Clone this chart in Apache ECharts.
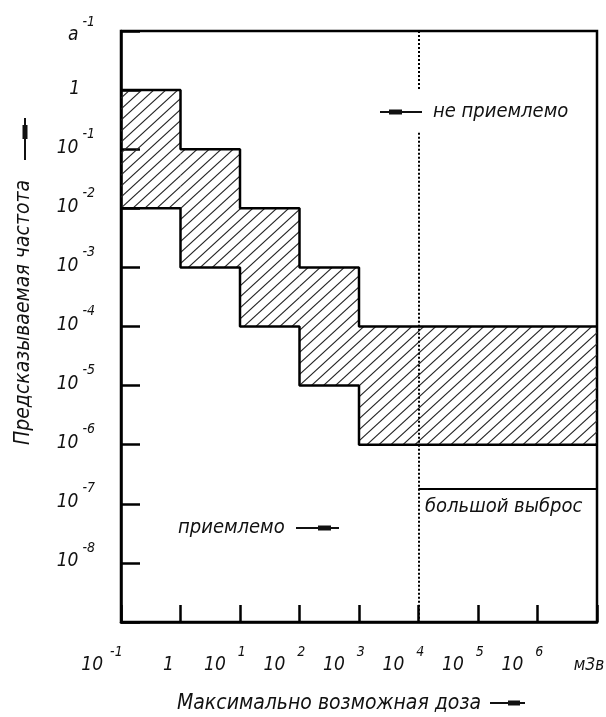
<!DOCTYPE html>
<html><head><meta charset="utf-8">
<script src="https://cdn.jsdelivr.net/npm/echarts@6/dist/echarts.min.js"></script>
<style>html,body{margin:0;padding:0;background:#fff;}#c{width:606px;height:717px;}</style>
</head><body><div id="c"></div>
<script>
// ---- data ----
const stepEdges = [0.1, 1, 10, 100, 1000, 1e7];
const upperBound = [1, 0.1, 0.01, 0.001, 1e-4];
const lowerBound = [0.01, 0.001, 1e-4, 1e-5, 1e-6];
const xTickLabels = [['10','-1'],['1',''],['10','1'],['10','2'],['10','3'],['10','4'],['10','5'],['10','6'],['мЗв','']];
const yTickLabels = [['а','-1'],['1',''],['10','-1'],['10','-2'],['10','-3'],['10','-4'],['10','-5'],['10','-6'],['10','-7'],['10','-8'],['','']];
const boundaryX = 1e4;
const dottedSegments = [[10, 1], [0.19, 1e-9]];
const largeReleaseY = 1.8e-7;
const xName = 'Максимально возможная доза';
const yName = 'Предсказываемая частота';
const txtNotAcceptable = 'не приемлемо';
const txtAcceptable = 'приемлемо';
const txtLargeRelease = 'большой выброс';

const FF = "'DejaVu Sans Condensed', 'Liberation Sans Narrow', sans-serif";

function makeHatch(){
  const W = 12, H = 11;
  const c = document.createElement('canvas');
  c.width = W; c.height = H;
  const g = c.getContext('2d');
  g.strokeStyle = '#222'; g.lineWidth = 1.1;
  for (const k of [-1, 0, 1]) {
    g.beginPath();
    g.moveTo(-1, H + H / W + k * H);
    g.lineTo(W + 1, -H / W + k * H);
    g.stroke();
  }
  return { image: c, repeat: 'repeat' };
}
const hatch = makeHatch();

const bandData = stepEdges.slice(0, -1).map((x0, i) => [x0, stepEdges[i + 1], lowerBound[i], upperBound[i]]);
const upperLine = stepEdges.map((x, i) => [x, upperBound[Math.min(i, upperBound.length - 1)]]);
const lowerLine = stepEdges.map((x, i) => [x, lowerBound[Math.min(i, lowerBound.length - 1)]]);

const base = { fontFamily: FF, fontStyle: 'italic', color: '#111' };
const BF = 19, SF = 14, LH = 41;

function arrow(x1, y1, x2, y2, t1, t2) {
  const horiz = y1 === y2;
  const els = [{
    type: 'line', shape: { x1, y1, x2, y2 }, style: { stroke: '#111', lineWidth: 2 }
  }];
  if (horiz) {
    els.push({ type: 'rect', shape: { x: t1, y: y1 - 2.5, width: t2 - t1, height: 5 }, style: { fill: '#111' } });
  } else {
    els.push({ type: 'rect', shape: { x: x1 - 2.5, y: t1, width: 5, height: t2 - t1 }, style: { fill: '#111' } });
  }
  return els;
}
function txt(text, x, y) {
  return { type: 'text', x, y, style: { text, fontSize: 20, fontFamily: FF, fontStyle: 'italic', fill: '#111', verticalAlign: 'middle', align: 'left' } };
}

const chart = echarts.init(document.getElementById('c'), null, { renderer: 'canvas' });
chart.setOption({
  animation: false,
  backgroundColor: '#fff',
  grid: { left: 121, right: 9, top: 31, bottom: 95, show: true, borderColor: '#000', borderWidth: 2.5, backgroundColor: 'transparent', containLabel: false, outerBoundsMode: 'none' },
  xAxis: {
    type: 'log', logBase: 10, min: 0.1, max: 1e7, interval: 1, splitNumber: 8,
    axisLine: { lineStyle: { color: '#000', width: 2.5 } },
    axisTick: { inside: true, length: 17, lineStyle: { color: '#000', width: 2.5 } },
    splitLine: { show: false }, minorTick: { show: false },
    axisLabel: {
      showMinLabel: true, showMaxLabel: true, hideOverlap: false, margin: 23, align: 'center', verticalAlign: 'top',
      formatter: v => {
        const e = Math.round(Math.log10(v));
        const t = xTickLabels[e + 1];
        if (!t) return '';
        if (t[1] && t[1][0] === '-') return `{xbn|${t[0]}}{xsn|${t[1]}}`;
        if (t[1]) return `{xb|${t[0]}}{xs|${t[1]}}`;
        if (t[0] === '1') return `{xo1|${t[0]}}`;
        return `{xo2|${t[0]}}`;
      },
      rich: {
        xb: Object.assign({}, base, { fontSize: BF, lineHeight: LH, padding: [0, 12, 0, 0] }),
        xs: Object.assign({}, base, { fontSize: SF, lineHeight: 15, padding: [0, 30, 0, 0], verticalAlign: 'top' }),
        xbn: Object.assign({}, base, { fontSize: BF, lineHeight: LH, padding: [0, 7, 0, 0] }),
        xsn: Object.assign({}, base, { fontSize: SF, lineHeight: 15, padding: [0, 38, 0, 0], verticalAlign: 'top' }),
        xo1: Object.assign({}, base, { fontSize: BF, lineHeight: LH, padding: [0, 24, 0, 0] }),
        xo2: Object.assign({}, base, { fontSize: 17, lineHeight: LH, padding: [0, 16, 0, 0] })
      }
    },
    name: xName, nameLocation: 'middle', nameGap: 71,
    nameTextStyle: Object.assign({}, base, { fontSize: 21, padding: [0, 60, 0, 0] })
  },
  yAxis: {
    type: 'log', logBase: 10, min: 1e-9, max: 10, interval: 1, splitNumber: 10,
    axisLine: { lineStyle: { color: '#000', width: 2.5 } },
    axisTick: { inside: true, length: 19, lineStyle: { color: '#000', width: 2.5 } },
    splitLine: { show: false }, minorTick: { show: false },
    axisLabel: {
      showMinLabel: true, showMaxLabel: true, hideOverlap: false, margin: 26, align: 'right', verticalAlign: 'middle',
      padding: [0, 0, 3, 0],
      formatter: v => {
        const e = Math.round(Math.log10(v));
        const t = yTickLabels[1 - e];
        if (!t || !t[0]) return '';
        if (t[1] && t[0] !== '10') return `{ya|${t[0]}}{yas|${t[1]}}`;
        if (t[1]) return `{yb|${t[0]}}{ys|${t[1]}}`;
        return `{yo|${t[0]}}`;
      },
      rich: {
        yb: Object.assign({}, base, { fontSize: BF, lineHeight: LH, padding: [0, 4, 0, 0] }),
        ys: Object.assign({}, base, { fontSize: SF, lineHeight: 15, verticalAlign: 'top' }),
        ya: Object.assign({}, base, { fontSize: BF, lineHeight: LH, padding: [12, 4, 0, 0] }),
        yas: Object.assign({}, base, { fontSize: SF, lineHeight: 15, padding: [6, 0, 0, 0], verticalAlign: 'top' }),
        yo: Object.assign({}, base, { fontSize: BF, lineHeight: LH, padding: [0, 15, 0, 0] })
      }
    },
    name: yName, nameLocation: 'middle', nameGap: 87, nameRotate: 90,
    nameTextStyle: Object.assign({}, base, { fontSize: 21, padding: [0, 0, 0, 28] })
  },
  series: [
    {
      type: 'custom', z: 1, silent: true, data: bandData,
      encode: { x: [0, 1], y: [2, 3] },
      renderItem: (params, api) => {
        const p0 = api.coord([api.value(0), api.value(3)]);
        const p1 = api.coord([api.value(1), api.value(2)]);
        return { type: 'rect', shape: { x: p0[0], y: p0[1], width: p1[0] - p0[0], height: p1[1] - p0[1] }, style: { fill: hatch } };
      }
    },
    {
      type: 'line', step: 'end', data: upperLine, symbol: 'none', z: 3, silent: true,
      lineStyle: { color: '#000', width: 2.5 },
      markLine: {
        silent: true, symbol: ['none', 'none'], label: { show: false },
        data: [
          ...dottedSegments.map(s => [
            { coord: [boundaryX, s[0]], lineStyle: { type: [2, 2], width: 2, color: '#000' } },
            { coord: [boundaryX, s[1]] }
          ]),
          [
            { coord: [boundaryX, largeReleaseY], lineStyle: { type: 'solid', width: 2.2, color: '#000' } },
            { coord: [1e7, largeReleaseY] }
          ]
        ]
      }
    },
    {
      type: 'line', step: 'end', data: lowerLine, symbol: 'none', z: 3, silent: true,
      lineStyle: { color: '#000', width: 2.5 }
    }
  ],
  graphic: [
    ...arrow(25, 160, 25, 118, 125, 139),
    ...arrow(490, 703, 525, 703, 508, 520),
    ...arrow(380, 112, 422, 112, 389, 402),
    ...arrow(296, 528, 339, 528, 318, 331),
    txt(txtNotAcceptable, 433, 112),
    txt(txtAcceptable, 178, 528),
    txt(txtLargeRelease, 425, 507)
  ]
});
</script>
</body></html>
